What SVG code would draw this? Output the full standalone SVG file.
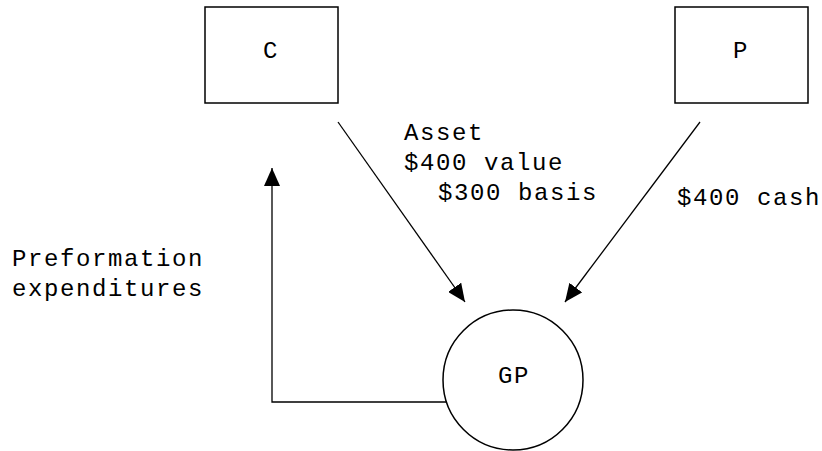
<svg xmlns="http://www.w3.org/2000/svg" width="822" height="451" viewBox="0 0 822 451">
<style>
text { font-family: "Liberation Mono", "Courier New", monospace; font-size: 24px; letter-spacing: 1.6px; fill: #000; }
.shape { fill: #fff; stroke: #000; stroke-width: 1.5; }
.conn { fill: none; stroke: #000; stroke-width: 1.3; }
</style>
<defs>
<marker id="ah" markerUnits="userSpaceOnUse" markerWidth="20" markerHeight="16" refX="18" refY="8" orient="auto">
<path d="M0,0 L18,8 L0,16 Z" fill="#000"/>
</marker>
</defs>
<rect width="822" height="451" fill="#fff"/>
<g id="connectors">
<line class="conn" x1="338" y1="122" x2="465" y2="302" marker-end="url(#ah)"/>
<line class="conn" x1="700" y1="122" x2="565" y2="302" marker-end="url(#ah)"/>
<polyline class="conn" points="446,402 272,402 272,168" marker-end="url(#ah)"/>
</g>
<g id="node-C">
<rect class="shape" x="205" y="7" width="133" height="96"/>
<text x="271" y="58" text-anchor="middle">C</text>
</g>
<g id="node-P">
<rect class="shape" x="675" y="7" width="133" height="96"/>
<text x="741" y="58" text-anchor="middle">P</text>
</g>
<g id="node-GP">
<circle class="shape" cx="513" cy="380" r="70"/>
<text x="514" y="383" text-anchor="middle">GP</text>
</g>
<g id="labels">
<text x="404" y="140">Asset</text>
<text x="404" y="170">$400 value</text>
<text x="438" y="200">$300 basis</text>
<text x="677" y="205">$400 cash</text>
<text x="12" y="266">Preformation</text>
<text x="12" y="296">expenditures</text>
</g>
</svg>
